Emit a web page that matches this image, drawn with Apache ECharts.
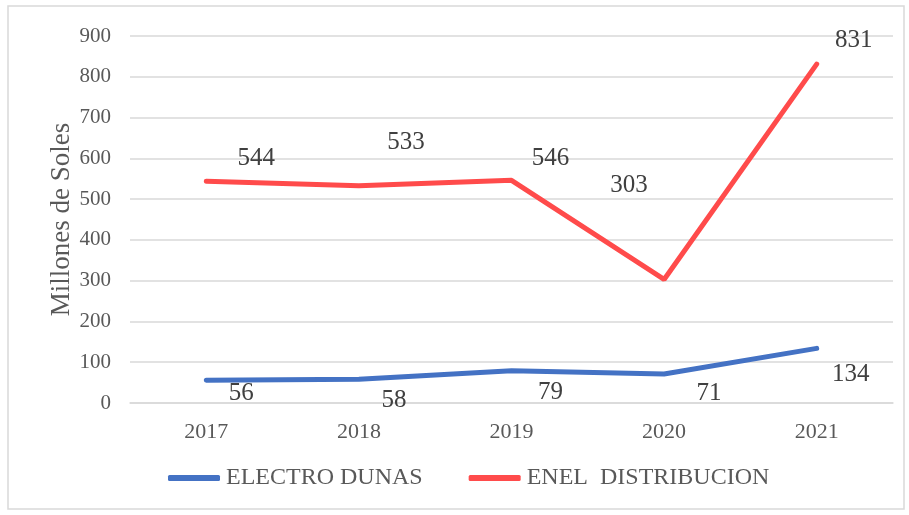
<!DOCTYPE html>
<html>
<head>
<meta charset="utf-8">
<script src="https://cdn.jsdelivr.net/npm/echarts@6/dist/echarts.min.js"></script>
<style>
  html, body { margin: 0; padding: 0; background: #fff; }
  #main { width: 909px; height: 515px; }
</style>
</head>
<body>
<div id="main"></div>
<script>
const years = ['2017', '2018', '2019', '2020', '2021'];
const electroDunas = [56, 58, 79, 71, 134];
const enelDistribucion = [544, 533, 546, 303, 831];
const yTicks = [0, 100, 200, 300, 400, 500, 600, 700, 800, 900];

// posiciones manuales de las etiquetas (como en el original de Excel)
const blueOffsets = [[35, 13], [35, 21], [39, 22], [45, 19], [34, 26]];
const redOffsets = [[50, -23], [47, -43], [39, -22], [-35, -94], [37, -24]];

const font = 'Liberation Serif';

function withLabels(values, offsets) {
    return values.map((v, i) => ({
        value: v,
        label: { offset: offsets[i] }
    }));
}

const chart = echarts.init(document.getElementById('main'));
chart.setOption({
    animation: false,
    backgroundColor: '#fff',
    graphic: [{
        type: 'rect',
        shape: { x: 8, y: 6, width: 896, height: 503 },
        style: { fill: 'none', stroke: '#d9d9d9', lineWidth: 1.5 },
        silent: true
    }],
    grid: { left: 130, right: 16, top: 36, bottom: 112 },
    legend: {
        bottom: 20,
        left: 163,
        itemWidth: 52,
        itemHeight: 6,
        itemGap: 46,
        icon: 'roundRect',
        textStyle: { fontFamily: font, fontSize: 24, color: '#595959', padding: [0, 0, 0, 1] },
        data: ['ELECTRO DUNAS', 'ENEL  DISTRIBUCION']
    },
    xAxis: {
        type: 'category',
        data: years,
        boundaryGap: true,
        axisLine: { lineStyle: { color: '#d9d9d9', width: 1.5 } },
        axisTick: { show: false },
        axisLabel: { fontFamily: font, fontSize: 22, color: '#595959', margin: 18 }
    },
    yAxis: {
        type: 'value',
        min: yTicks[0],
        max: yTicks[yTicks.length - 1],
        interval: 100,
        name: 'Millones de Soles',
        nameLocation: 'middle',
        nameGap: 55,
        nameMoveOverlap: false,
        nameTextStyle: { fontFamily: font, fontSize: 27, color: '#595959' },
        axisLine: { show: false },
        axisTick: { show: false },
        axisLabel: { fontFamily: font, fontSize: 21, color: '#595959', margin: 19 },
        splitLine: { lineStyle: { color: '#d9d9d9', width: 1.5 } }
    },
    series: [
        {
            name: 'ELECTRO DUNAS',
            type: 'line',
            data: withLabels(electroDunas, blueOffsets),
            symbol: 'circle',
            symbolSize: 0.1,
            color: '#4472C4',
            lineStyle: { width: 5, color: '#4472C4', cap: 'round' },
            label: {
                show: true,
                position: 'inside',
                fontFamily: font,
                fontSize: 25,
                color: '#404040'
            }
        },
        {
            name: 'ENEL  DISTRIBUCION',
            type: 'line',
            data: withLabels(enelDistribucion, redOffsets),
            symbol: 'circle',
            symbolSize: 0.1,
            color: '#FF4B4B',
            lineStyle: { width: 5, color: '#FF4B4B', cap: 'round' },
            label: {
                show: true,
                position: 'inside',
                fontFamily: font,
                fontSize: 25,
                color: '#404040'
            }
        }
    ]
});
</script>
</body>
</html>
